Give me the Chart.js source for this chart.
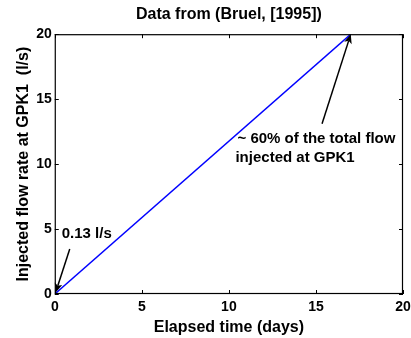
<!DOCTYPE html>
<html>
<head>
<meta charset="utf-8">
<script src="https://cdn.jsdelivr.net/npm/chart.js@4"></script>
<style>
  html, body { margin: 0; padding: 0; background: #fff; }
  #wrap { width: 411px; height: 338px; }
</style>
</head>
<body>
<div id="wrap"><canvas id="flowChart"></canvas></div>
<script>
// Injection ramp at GPK1
const elapsedDays = [0, 17];
const flowRate = [0, 20];
const xTicks = [0, 5, 10, 15, 20];
const yTicks = [0, 5, 10, 15, 20];

// Annotated arrows: [tailX, tailY, tipX, tipY] in data units
const arrowStart = [0.86, 3.46, 0.05, 0.12];
const arrowEnd = [15.35, 13.1, 17, 20];
const startLabel = ['0.13 l/s'];
const endLabel = ['~ 60% of the total flow', 'injected at GPK1'];

const FONT = 'Liberation Sans, Arial, sans-serif';

// box, inward ticks, arrows and notes
const decorPlugin = {
  id: 'decor',
  afterDatasetsDraw(chart) {
    const ctx = chart.ctx;
    const a = chart.chartArea;
    const xs = chart.scales.x, ys = chart.scales.y;
    ctx.save();
    ctx.strokeStyle = '#000';
    ctx.lineWidth = 1.2;
    ctx.strokeRect(a.left + 0.5, a.top + 0.5, a.right - a.left - 1, a.bottom - a.top - 1);
    const len = 4;
    ctx.lineWidth = 1;
    ctx.beginPath();
    xTicks.forEach(v => {
      const px = Math.round(xs.getPixelForValue(v)) + 0.5;
      ctx.moveTo(px, a.bottom); ctx.lineTo(px, a.bottom - len);
      ctx.moveTo(px, a.top); ctx.lineTo(px, a.top + len);
    });
    yTicks.forEach(v => {
      const py = Math.round(ys.getPixelForValue(v)) + 0.5;
      ctx.moveTo(a.left, py); ctx.lineTo(a.left + len, py);
      ctx.moveTo(a.right, py); ctx.lineTo(a.right - len, py);
    });
    ctx.stroke();

    function arrow(p) {
      const x1 = xs.getPixelForValue(p[0]), y1 = ys.getPixelForValue(p[1]);
      const x2 = xs.getPixelForValue(p[2]), y2 = ys.getPixelForValue(p[3]);
      const ang = Math.atan2(y2 - y1, x2 - x1);
      const h = 10, w = 0.4, back = 7;
      ctx.lineWidth = 1.5;
      ctx.beginPath();
      ctx.moveTo(x1, y1);
      ctx.lineTo(x2 - back * Math.cos(ang), y2 - back * Math.sin(ang));
      ctx.stroke();
      ctx.beginPath();
      ctx.moveTo(x2, y2);
      ctx.lineTo(x2 - h * Math.cos(ang - w), y2 - h * Math.sin(ang - w));
      ctx.lineTo(x2 - back * Math.cos(ang), y2 - back * Math.sin(ang));
      ctx.lineTo(x2 - h * Math.cos(ang + w), y2 - h * Math.sin(ang + w));
      ctx.closePath();
      ctx.fill();
    }
    ctx.fillStyle = '#000';
    arrow(arrowStart);
    arrow(arrowEnd);

    ctx.font = 'bold 15px ' + FONT;
    ctx.textBaseline = 'middle';
    ctx.textAlign = 'left';
    ctx.fillText(startLabel[0], xs.getPixelForValue(0.4), ys.getPixelForValue(4.6));
    ctx.textAlign = 'center';
    ctx.fillText(endLabel[0], xs.getPixelForValue(15.03), ys.getPixelForValue(11.92));
    ctx.fillText(endLabel[1], xs.getPixelForValue(13.8), ys.getPixelForValue(10.46));
    ctx.restore();
  }
};

new Chart(document.getElementById('flowChart'), {
  type: 'scatter',
  data: {
    datasets: [{
      data: elapsedDays.map((d, i) => ({ x: d, y: flowRate[i] })),
      showLine: true,
      borderColor: '#0000ff',
      borderWidth: 1.5,
      pointRadius: 0,
      fill: false
    }]
  },
  options: {
    responsive: true,
    maintainAspectRatio: false,
    animation: false,
    layout: { padding: { left: 14, right: 8, top: 0, bottom: 1 } },
    plugins: {
      legend: { display: false },
      tooltip: { enabled: false },
      title: {
        display: true,
        fullSize: false,
        text: 'Data from (Bruel, [1995])',
        color: '#000',
        font: { family: FONT, size: 16, weight: 'bold' },
        padding: { top: 5, bottom: 10 }
      }
    },
    scales: {
      x: {
        type: 'linear',
        min: 0, max: 20,
        afterBuildTicks: s => { s.ticks = xTicks.map(v => ({ value: v })); },
        // let the last tick label hang into the outer padding
        afterFit: s => { s.paddingRight = 0; },
        grid: { display: false, drawTicks: false },
        border: { display: false },
        ticks: { color: '#000', padding: 5, maxRotation: 0, font: { family: FONT, size: 14, weight: 'bold' } },
        title: {
          display: true, text: 'Elapsed time (days)', color: '#000',
          font: { family: FONT, size: 16, weight: 'bold' }, padding: { top: -3, bottom: 0 }
        }
      },
      y: {
        type: 'linear',
        min: 0, max: 20,
        afterBuildTicks: s => { s.ticks = yTicks.map(v => ({ value: v })); },
        grid: { display: false, drawTicks: false },
        border: { display: false },
        ticks: { color: '#000', padding: 3, font: { family: FONT, size: 14, weight: 'bold' } },
        title: {
          display: true, text: 'Injected flow rate at GPK1  (l/s)', color: '#000',
          font: { family: FONT, size: 16, weight: 'bold' }, padding: { top: 0, bottom: 0 }
        }
      }
    }
  },
  plugins: [decorPlugin]
});
</script>
</body>
</html>
